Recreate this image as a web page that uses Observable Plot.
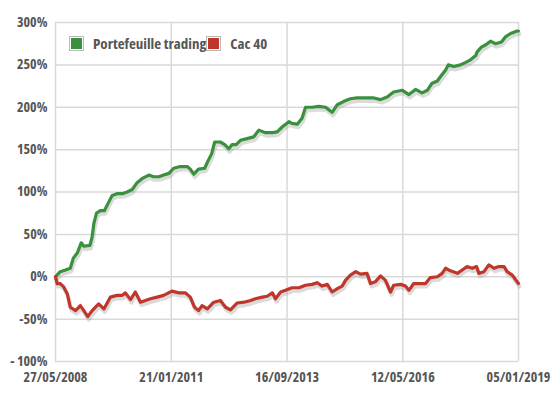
<!DOCTYPE html>
<html>
<head>
<meta charset="utf-8">
<script src="https://cdn.jsdelivr.net/npm/d3@7"></script>
<script src="https://cdn.jsdelivr.net/npm/@observablehq/plot@0.6"></script>
<style>
  body { margin: 0; background: #fff; }
  #wrap { position: relative; width: 556px; height: 399px; font-family: "Open Sans", sans-serif; font-stretch: condensed; }
  .legend { position: absolute; left: 69px; top: 33px; display: flex; align-items: center; font-size: 15px; font-weight: 700; color: #555; font-stretch: condensed; }
  .sw { width: 13px; height: 13px; border: 1px solid #bbb; box-shadow: inset 0 0 0 1px #fff; margin-right: 9px; }
  .item { display: flex; align-items: center; }
</style>
</head>
<body>
<div id="wrap"></div>
<script>
// decimal years and values (%)
const seriesNames = ["Portefeuille trading", "Cac 40"];
const seriesColors = ["#39913d", "#c0362a"];

const portfolioYears = [2008.401,2008.51,2008.63,2008.74,2008.81,2008.90,2008.99,2009.05,2009.19,2009.24,2009.28,2009.34,2009.43,2009.52,2009.60,2009.70,2009.81,2009.93,2010.04,2010.16,2010.27,2010.39,2010.54,2010.65,2010.77,2010.88,2011.00,2011.11,2011.26,2011.42,2011.49,2011.57,2011.68,2011.82,2011.90,2011.98,2012.05,2012.18,2012.28,2012.37,2012.45,2012.54,2012.64,2012.79,2012.94,2013.06,2013.21,2013.37,2013.48,2013.60,2013.75,2013.82,2013.94,2014.05,2014.13,2014.28,2014.43,2014.59,2014.74,2014.86,2015.01,2015.16,2015.31,2015.50,2015.70,2015.85,2016.00,2016.15,2016.35,2016.50,2016.65,2016.80,2016.92,2017.02,2017.15,2017.22,2017.34,2017.40,2017.53,2017.68,2017.80,2017.91,2018.03,2018.06,2018.16,2018.27,2018.37,2018.48,2018.62,2018.71,2018.83,2018.98,2019.01];
const portfolioValues = [0,6,8,10,22,28,40,36,37,47,63,75,78,78,86,96,98,98,100,103,111,116,120,118,118,120,122,128,130,130,127,121,127,128,137,145,159,159,156,151,156,156,161,163,165,173,170,170,171,177,183,181,180,187,200,200,201,200,194,203,207,210,211,211,211,209,212,218,220,215,221,217,220,228,231,236,244,250,248,250,253,256,261,265,271,274,278,275,277,283,287,290,290];

const cacYears = [2008.401,2008.44,2008.51,2008.59,2008.67,2008.74,2008.86,2008.97,2009.05,2009.14,2009.24,2009.39,2009.51,2009.66,2009.81,2009.93,2010.00,2010.12,2010.23,2010.35,2010.46,2010.58,2010.73,2010.88,2011.07,2011.23,2011.38,2011.49,2011.59,2011.68,2011.76,2011.88,2012.03,2012.18,2012.30,2012.41,2012.56,2012.72,2012.87,2012.98,2013.14,2013.25,2013.37,2013.44,2013.56,2013.67,2013.82,2013.98,2014.13,2014.28,2014.40,2014.51,2014.63,2014.74,2014.86,2014.97,2015.05,2015.16,2015.28,2015.39,2015.54,2015.62,2015.73,2015.85,2015.96,2016.08,2016.15,2016.31,2016.42,2016.50,2016.61,2016.77,2016.88,2016.99,2017.15,2017.26,2017.34,2017.45,2017.61,2017.72,2017.83,2017.95,2018.05,2018.10,2018.22,2018.33,2018.45,2018.56,2018.68,2018.75,2018.87,2018.98,2019.01];
const cacValues = [0,-8,-8,-12,-20,-36,-40,-34,-40,-47,-40,-32,-38,-24,-22,-22,-19,-27,-18,-30,-28,-26,-24,-22,-17,-19,-19,-24,-36,-40,-34,-38,-30,-28,-36,-39,-31,-30,-28,-26,-24,-23,-19,-26,-18,-16,-13,-13,-10,-9,-7,-11,-9,-18,-14,-11,-4,2,6,3,4,-8,-6,1,-4,-18,-10,-9,-11,-16,-8,-8,-8,-1,0,4,10,7,4,8,12,10,12,4,6,14,10,12,12,6,2,-6,-8];

const xTickLabels = ["2008-05-27","2011-01-21","2013-09-16","2016-05-12","2019-01-05"];
const yTicks = [-100,-50,0,50,100,150,200,250,300];

function toDate(y) {
  const yr = Math.floor(y);
  const start = Date.UTC(yr, 0, 1), end = Date.UTC(yr + 1, 0, 1);
  return new Date(start + (y - yr) * (end - start));
}
const data = [];
portfolioYears.forEach((y, i) => data.push({date: toDate(y), value: portfolioValues[i], series: seriesNames[0]}));
cacYears.forEach((y, i) => data.push({date: toDate(y), value: cacValues[i], series: seriesNames[1]}));

const xTicks = xTickLabels.map(s => new Date(s + "T00:00:00Z"));
const fmtDate = d3.utcFormat("%d/%m/%Y");
const fmtPct = d => d === -100 ? "- 100%" : d + "%";

const chart = Plot.plot({
  width: 556,
  height: 399,
  marginLeft: 55,
  marginRight: 38,
  marginTop: 22,
  marginBottom: 38,
  style: {fontFamily: '"Open Sans", sans-serif', fontSize: "14px", fontWeight: 700, color: "#555", fontStretch: "condensed", background: "#fff"},
  x: {type: "utc", domain: [xTicks[0], xTicks[xTicks.length - 1]], label: null},
  y: {domain: [-100, 300], label: null},
  color: {domain: seriesNames, range: seriesColors},
  marks: [
    Plot.gridY(yTicks, {stroke: "#d9d9d9", strokeOpacity: 1, strokeWidth: 1.5}),
    Plot.gridX(xTicks, {stroke: "#d9d9d9", strokeOpacity: 1, strokeWidth: 1.5}),
    Plot.line(data, {x: "date", y: "value", z: "series", stroke: "#999", strokeOpacity: 0.35, strokeWidth: 4, dx: 1, dy: 3}),
    Plot.line(data, {x: "date", y: "value", stroke: "series", strokeWidth: 3.2}),
    Plot.axisX({ticks: xTicks, tickFormat: fmtDate, tickSize: 0, tickPadding: 11, fill: "#555"}),
    Plot.axisY({ticks: yTicks, tickFormat: fmtPct, tickSize: 0, tickPadding: 8, fill: "#555"})
  ]
});

const wrap = document.getElementById("wrap");
wrap.appendChild(chart);
const legend = document.createElement("div");
legend.className = "legend";
seriesNames.forEach((n, i) => {
  const it = document.createElement("div");
  it.className = "item";
  const sw = document.createElement("div");
  sw.className = "sw";
  sw.style.background = seriesColors[i];
  const t = document.createElement("span");
  t.textContent = n;
  it.appendChild(sw); it.appendChild(t);
  legend.appendChild(it);
});
wrap.appendChild(legend);
</script>
</body>
</html>
